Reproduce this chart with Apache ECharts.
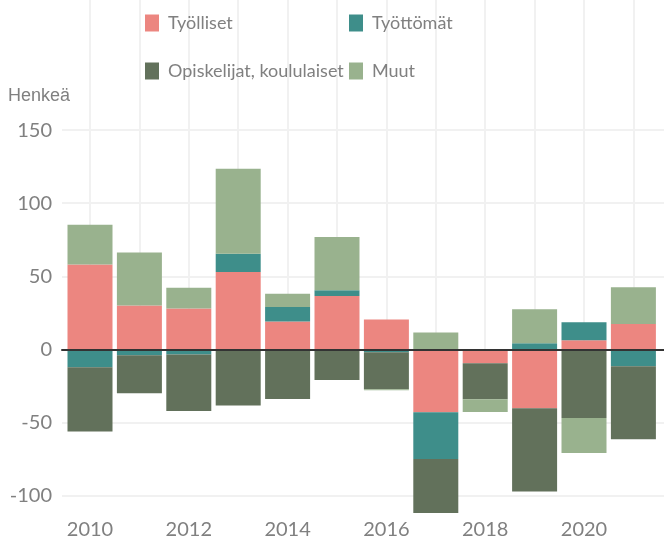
<!DOCTYPE html>
<html>
<head>
<meta charset="utf-8">
<script src="https://cdn.jsdelivr.net/npm/echarts@6/dist/echarts.min.js"></script>
<style>
  html, body { margin: 0; padding: 0; background: #fff; }
  #chart { width: 664px; height: 541px; }
</style>
</head>
<body>
<div id="chart"></div>
<script>
// vuodet ja sarjat
const years = ['2010', '2011', '2012', '2013', '2014', '2015', '2016', '2017', '2018', '2019', '2020', '2021']
const tyolliset = [58, 30, 28, 53, 19, 36.5, 20.5, -43, -9.6, -40.4, 6.2, 17.4]
const tyottomat = [-12.3, -4, -3.5, 12.4, 10, 4, -2, -32, 0, 4.1, 12.3, -11.6]
const opiskelijat = [-44, -26, -38.7, -38.4, -34, -21, -25.3, -40, -24.6, -56.9, -47, -50]
const muut = [27.2, 36.3, 14.2, 58.2, 9, 36.4, -0.7, 11.6, -8.7, 23.3, -24, 25.1]
const yTicks = [-100, -50, 0, 50, 100, 150]

const names = ['Työlliset', 'Työttömät', 'Opiskelijat, koululaiset', 'Muut']
const colors = ['#ec8680', '#3e8e8a', '#62715b', '#99b28e']
const values = [tyolliset, tyottomat, opiskelijat, muut]

const font = 'Lato, "Noto Sans", sans-serif'
const gray = '#808080'
const gridColor = '#f1f1f1'
const yMin = -112
const yMax = 159

const chart = echarts.init(document.getElementById('chart'))

// grid 0: y-akselin tekstit, vaakaviivat ja nollaviiva; grid 1: pylväät
const series = names.map((name, i) => ({
  name: name,
  type: 'bar',
  stack: 'total',
  xAxisIndex: 1,
  yAxisIndex: 1,
  barWidth: 45,
  itemStyle: { color: colors[i] },
  data: values[i]
}))

const legendBase = {
  orient: 'vertical',
  top: 9,
  icon: 'rect',
  itemWidth: 14,
  itemHeight: 17,
  itemGap: 30,
  textStyle: { fontSize: 18, color: gray, fontFamily: font, padding: [0, 0, 0, 4] }
}

chart.setOption({
  animation: false,
  color: colors,
  textStyle: { fontFamily: font },
  legend: [
    Object.assign({ data: [names[0], names[2]], left: 140 }, legendBase),
    Object.assign({ data: [names[1], names[3]], left: 344 }, legendBase)
  ],
  graphic: [{
    type: 'text',
    left: 8,
    top: 87,
    style: { text: 'Henkeä', fontSize: 18, fill: gray, fontFamily: '"Liberation Sans", sans-serif' }
  }],
  grid: [
    { left: 62, right: 0, top: 117, bottom: 28 },
    { left: 65.3, right: 5.9, top: 117, bottom: 28 }
  ],
  xAxis: [
    {
      gridIndex: 0,
      type: 'value',
      min: 0,
      max: 1,
      z: 3,
      axisLine: { show: true, onZero: true, lineStyle: { color: '#333', width: 2 } },
      axisTick: { show: false },
      axisLabel: { show: false },
      splitLine: { show: false }
    },
    {
      gridIndex: 1,
      type: 'category',
      data: years,
      axisLine: { show: false },
      axisTick: {
        show: true,
        inside: true,
        alignWithLabel: true,
        interval: 0,
        length: 396,
        lineStyle: { color: gridColor, width: 2 }
      },
      axisLabel: { interval: 1, fontSize: 20, color: gray, margin: 7 },
      splitLine: { show: false }
    }
  ],
  yAxis: [
    {
      gridIndex: 0,
      type: 'value',
      min: yMin,
      max: yMax,
      axisLine: { show: false },
      axisTick: { show: false },
      axisLabel: {
        fontSize: 20,
        color: gray,
        margin: 10,
        showMinLabel: false,
        showMaxLabel: false,
        formatter: v => yTicks.includes(v) ? String(v) : ''
      },
      splitLine: {
        show: true,
        showMinLine: false,
        showMaxLine: false,
        lineStyle: { color: gridColor, width: 2 }
      }
    },
    {
      gridIndex: 1,
      type: 'value',
      min: yMin,
      max: yMax,
      show: false,
      splitLine: { show: false }
    }
  ],
  series: series
})
</script>
</body>
</html>
